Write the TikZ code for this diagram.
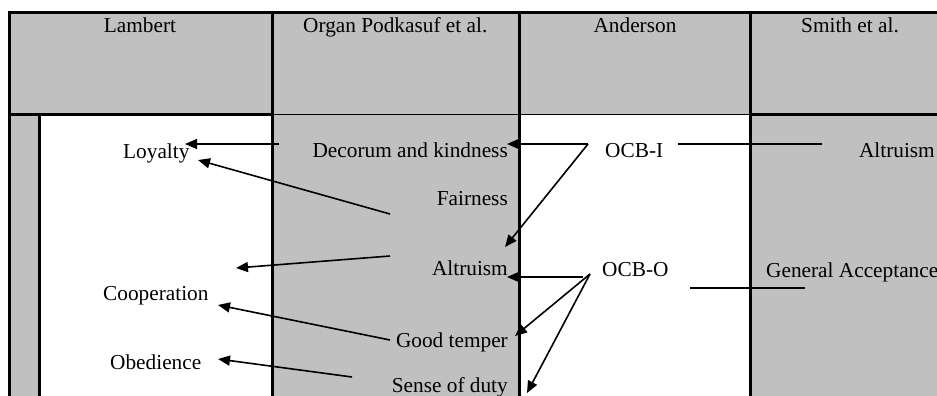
\documentclass[tikz,border=0pt]{standalone}
\usepackage{fontspec}
\setmainfont{Liberation Serif}
\usetikzlibrary{arrows.meta}
\definecolor{cellgray}{HTML}{C0C0C0}
\begin{document}
\begin{tikzpicture}[x=1pt,y=-1pt,
  lbl/.style={inner sep=0pt,font=\fontsize{21.3}{25}\selectfont},
  thickrule/.style={line width=3pt},
  thinrule/.style={line width=1pt},
  arr/.style={line width=1.6pt,-{Triangle[length=12pt,width=10pt]}},
  plainline/.style={line width=1.5pt}]
\useasboundingbox (0,0) rectangle (937,396);
\clip (0,0) rectangle (937,396);
% cell fills
\fill[cellgray] (9,13) rectangle (937,114);
\fill[cellgray] (9,114) rectangle (39,396);
\fill[cellgray] (272,114) rectangle (519,396);
\fill[cellgray] (750,114) rectangle (937,396);
% rules
\draw[thickrule] (9,13) -- (937,13);
\draw[thickrule] (9,11.5) -- (9,396);
\draw[thickrule] (39,114) -- (39,396);
\draw[thickrule] (272,11.5) -- (272,396);
\draw[thickrule] (519,11.5) -- (519,396);
\draw[thickrule] (750,11.5) -- (750,396);
\draw[thickrule] (9,114) -- (272,114);
\draw[thinrule] (272,114) -- (750,114);
\draw[thickrule] (750,114) -- (937,114);
% headers
\node[lbl,anchor=base] (hLambert) at (140,33) {Lambert};
\node[lbl,anchor=base west] (hOrgan) at (303,33) {Organ Podkasuf et al.};
\node[lbl,anchor=base] (hAnderson) at (635,33) {Anderson};
\node[lbl,anchor=base] (hSmith) at (850,33) {Smith et al.};
% Lambert column
\node[lbl,anchor=base west] (loyalty) at (123,158) {Loyalty};
\node[lbl,anchor=base west] (cooperation) at (103,300) {Cooperation};
\node[lbl,anchor=base west] (obedience) at (110,369) {Obedience};
% Organ column
\node[lbl,anchor=base east] (decorum) at (508,157) {Decorum and kindness};
\node[lbl,anchor=base east] (fairness) at (508,205) {Fairness};
\node[lbl,anchor=base east] (altruismO) at (508,275) {Altruism};
\node[lbl,anchor=base east] (goodtemper) at (508,347) {Good temper};
\node[lbl,anchor=base east] (duty) at (508,392) {Sense of duty};
% Anderson column
\node[lbl,anchor=base west] (ocbi) at (605,157) {OCB-I};
\node[lbl,anchor=base west] (ocbo) at (602,276) {OCB-O};
% Smith column
\node[lbl,anchor=base east] (altruismS) at (935,157) {Altruism};
\node[lbl,anchor=base west] (general) at (766,277) {General Acceptance};
% connector end points
\coordinate (d1) at (279,144);
\coordinate (l1) at (185,144);
\coordinate (f1) at (390,214);
\coordinate (l2) at (198,160);
\coordinate (a1) at (390,256);
\coordinate (c0) at (236,268);
\coordinate (g1) at (390,340);
\coordinate (c1) at (218,305);
\coordinate (s1) at (352,377);
\coordinate (o1) at (218,359);
\coordinate (ocbiA) at (588,144);
\coordinate (decT) at (507,144);
\coordinate (altT) at (505,247);
\coordinate (ocbiR) at (678,144);
\coordinate (smA) at (822,144);
\coordinate (ocboH) at (583,277);
\coordinate (ocboA) at (590,274);
\coordinate (altOT) at (507,277);
\coordinate (goodT) at (515,336);
\coordinate (dutyT) at (527,393);
\coordinate (ocboR) at (690,288);
\coordinate (genA) at (805,288);
% connectors
\draw[arr] (d1) -- (l1);
\draw[arr] (f1) -- (l2);
\draw[arr] (a1) -- (c0);
\draw[arr] (g1) -- (c1);
\draw[arr] (s1) -- (o1);
\draw[arr] (ocbiA) -- (decT);
\draw[arr] (ocbiA) -- (altT);
\draw[plainline] (ocbiR) -- (smA);
\draw[arr] (ocboH) -- (altOT);
\draw[arr] (ocboA) -- (goodT);
\draw[arr] (ocboA) -- (dutyT);
\draw[plainline] (ocboR) -- (genA);
\end{tikzpicture}
\end{document}
